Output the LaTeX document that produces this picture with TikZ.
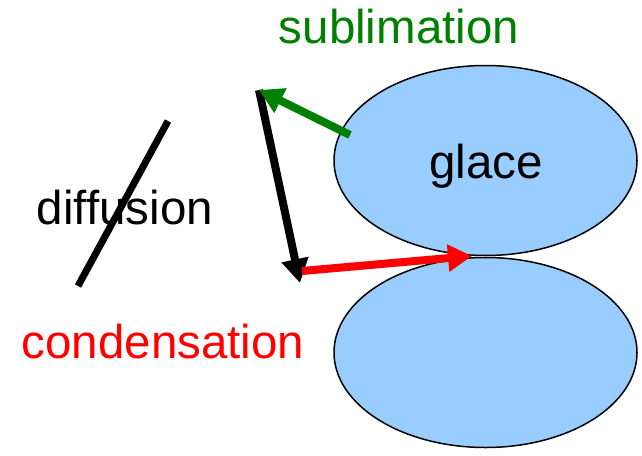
\documentclass[tikz,border=0pt]{standalone}
\usepackage{fontspec}
\setmainfont{Liberation Sans}
\usetikzlibrary{shapes.geometric,arrows.meta}
\definecolor{iceblue}{RGB}{153,204,255}
\definecolor{sublgreen}{RGB}{0,128,0}
\definecolor{condred}{RGB}{255,0,0}
\tikzset{
  lbl/.style={inner sep=0pt,anchor=base,font=\fontsize{47.5}{50}\selectfont},
  blob/.style={ellipse,draw=black,line width=1.5pt,fill=iceblue,minimum width=303pt,minimum height=190pt,inner sep=0pt},
  arr/.style={line width=8pt,-{Triangle[length=24pt,width=26pt]}},
}
\begin{document}
\begin{tikzpicture}[x=1pt,y=-1pt]
\useasboundingbox (0,0) rectangle (642,455);
\node[blob] (up) at (485.5,160.5) {};
\node[blob] (low) at (485.5,352.5) {};
\node[lbl] (glace) at (486,178) {glace};
\node[lbl,text=sublgreen] (subl) at (399,43) {sublimation};
\node[lbl,text=condred] (cond) at (163,358) {condensation};
\node[lbl] (diff) at (125,224) {diffusion};
\coordinate (top) at (259,90);
\coordinate (bot) at (300,283);
\coordinate (gs) at (350,135);
\coordinate (rs) at (302,271);
\coordinate (touch) at (472,256);
\coordinate (d1) at (78,286);
\coordinate (d2) at (168,121);
\draw[line width=7pt] (d1) -- (d2);
\draw[arr,black] (top) -- (bot);
\draw[arr,sublgreen] (gs) -- (top);
\draw[arr,condred] (rs) -- (touch);
\end{tikzpicture}
\end{document}
